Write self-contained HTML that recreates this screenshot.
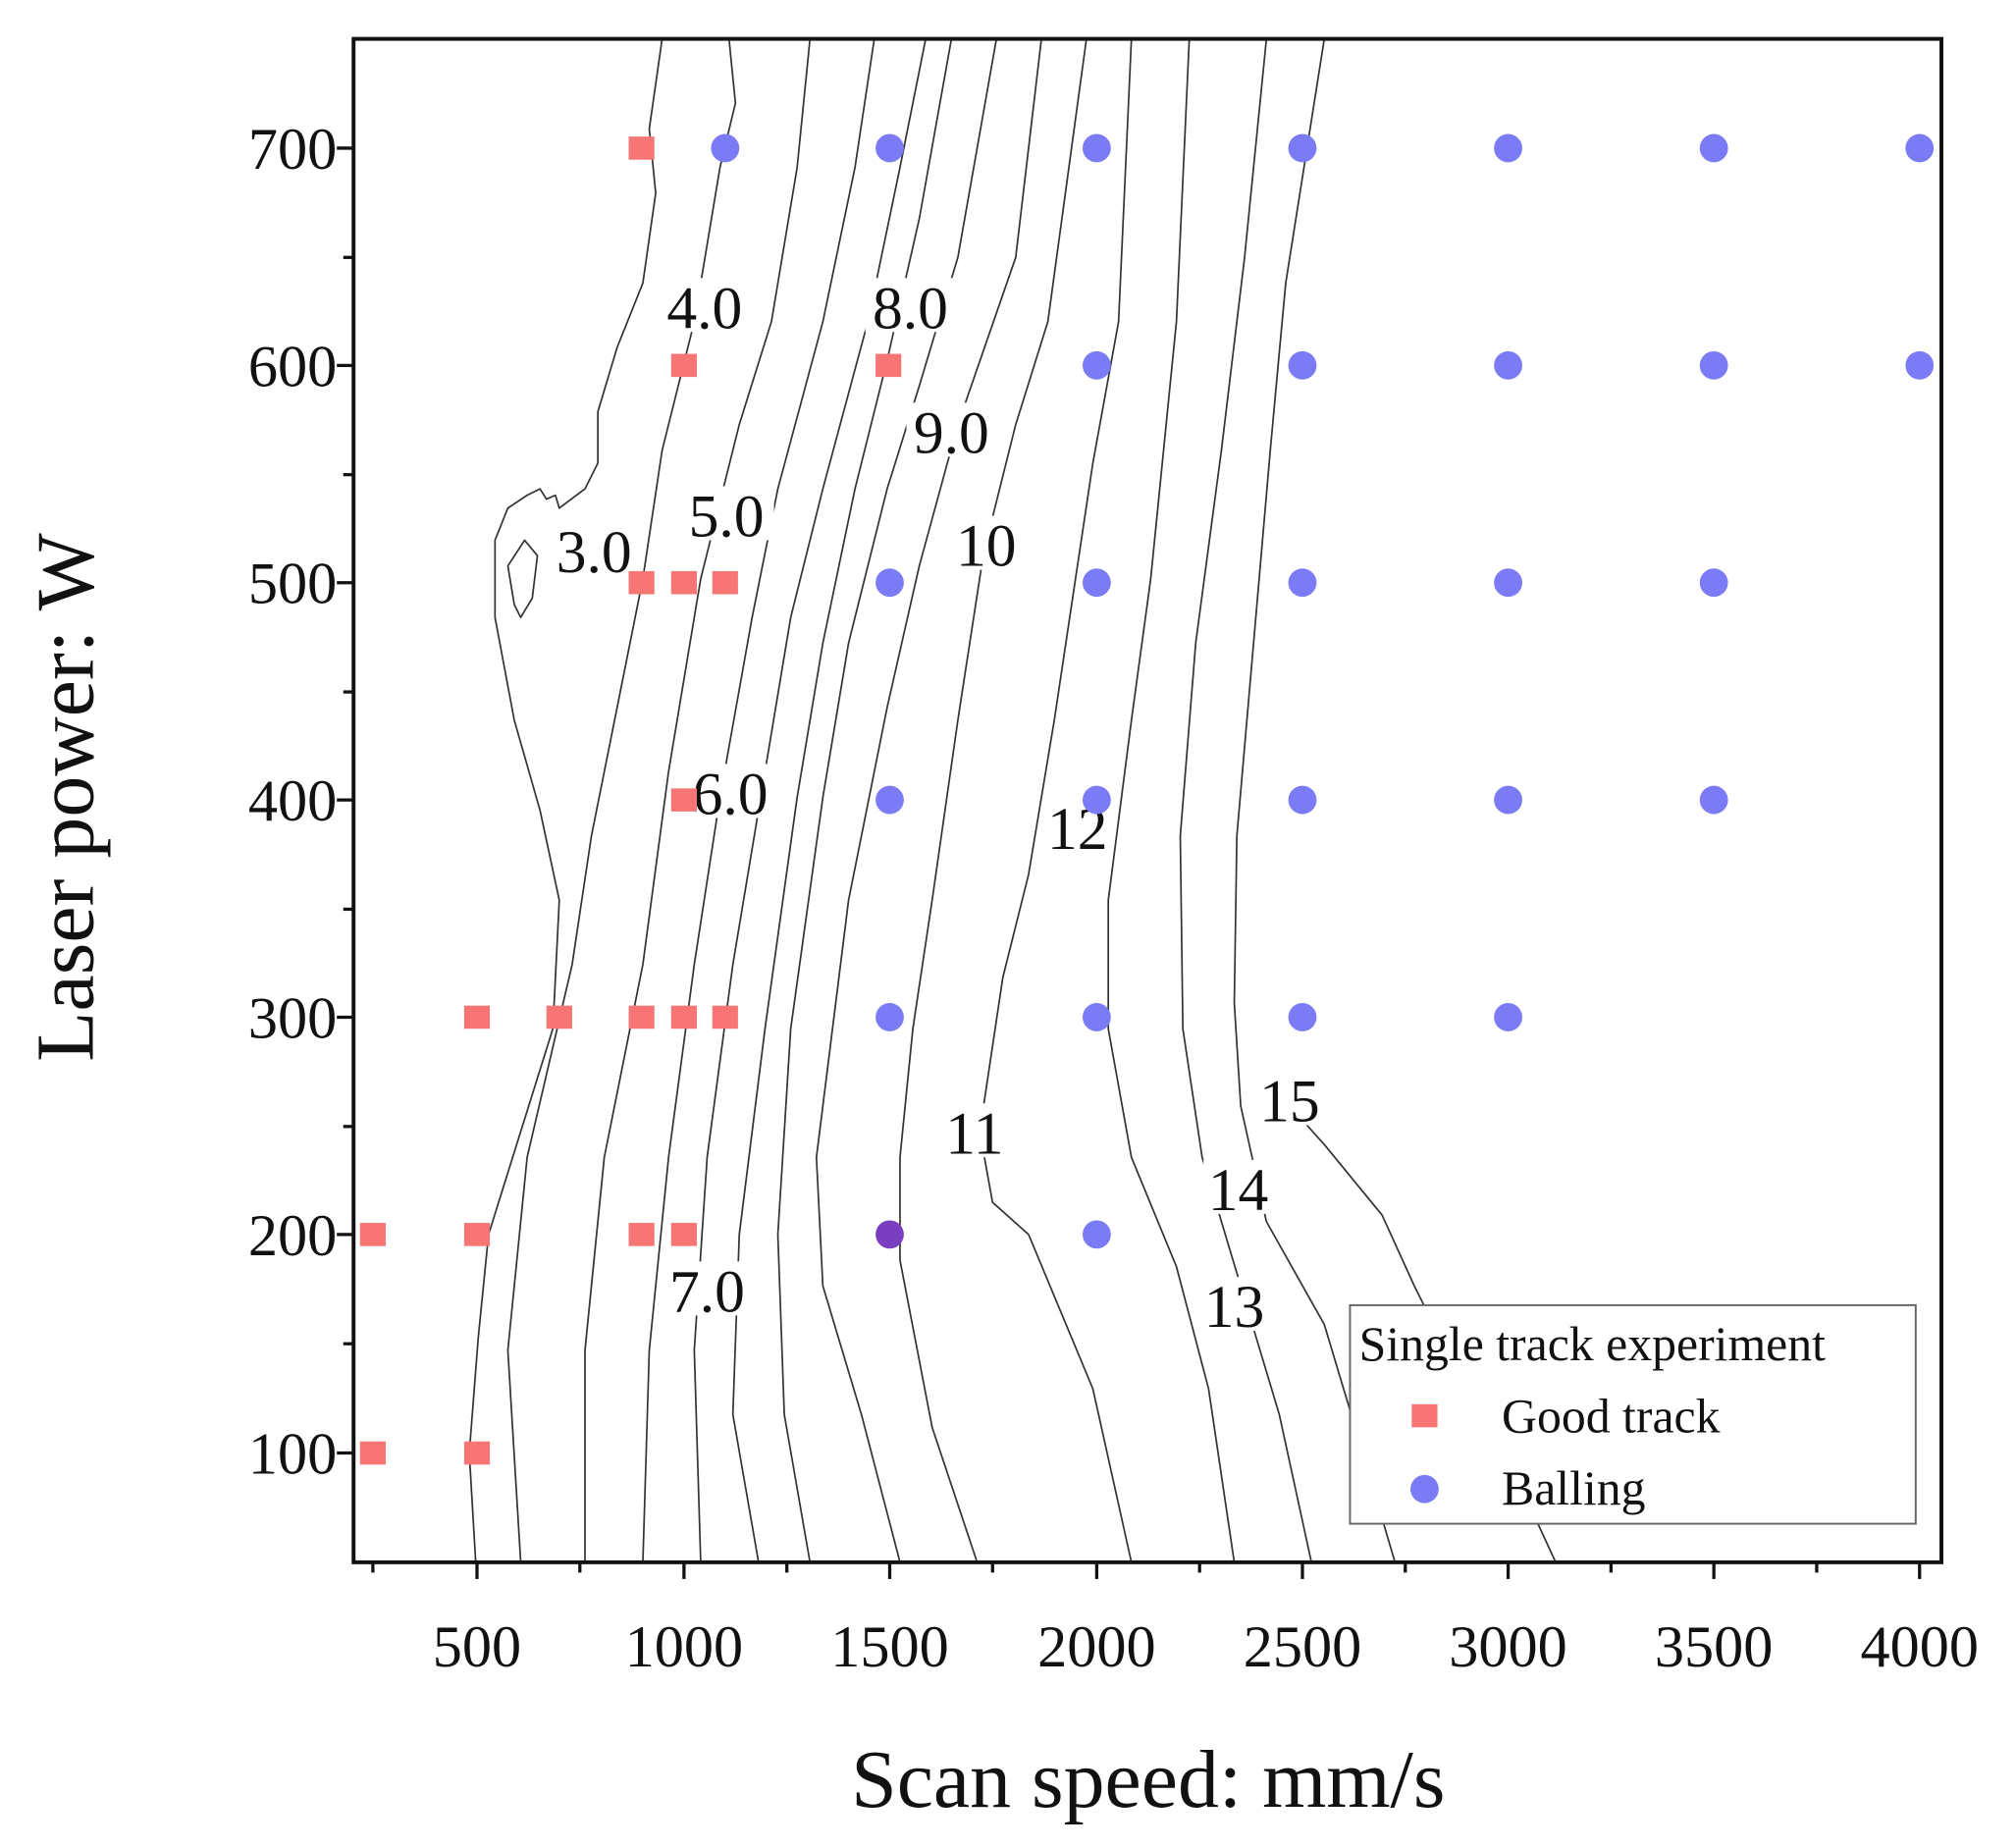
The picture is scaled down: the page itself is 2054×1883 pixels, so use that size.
<!DOCTYPE html>
<html><head><style>html,body{margin:0;padding:0;background:#fff}svg{display:block}</style></head><body>
<svg width="2054" height="1883" viewBox="0 0 1568 1437" xmlns="http://www.w3.org/2000/svg" font-family="Liberation Serif, serif">
<rect width="1568" height="1437" fill="#fff"/>
<g fill="none" stroke="#333" stroke-width="1.3" stroke-linejoin="round">
<path d="M370,1215 L365,1130 L372,1040 L380,960 L405,880 L430,800 L435,700 L420,630 L400,560 L385,480 L385,420 L395,395 L410,385 L420,380 L425,388 L432,385 L435,395 L455,380 L465,360 L465,320 L480,270 L500,220 L510,150 L505,100 L515,30"/>
<path d="M400,470 L395,440 L408,420 L418,432 L414,465 L405,480 Z"/>
<path d="M405,1215 L395,1050 L410,900 L445,750 L460,650 L480,550 L500,450 L515,350 L540,250 L560,130 L572,80 L567,30"/>
<path d="M455,1215 L455,1050 L470,900 L500,750 L520,600 L545,450 L575,330 L600,250 L620,130 L630,30"/>
<path d="M500,1215 L505,1050 L520,900 L540,750 L560,620 L585,480 L605,380 L640,250 L665,130 L680,30"/>
<path d="M545,1215 L540,1050 L550,900 L570,750 L595,600 L615,480 L640,380 L675,250 L700,130 L720,30"/>
<path d="M590,1215 L570,1100 L575,960 L595,800 L620,620 L640,500 L665,380 L690,280 L715,170 L740,30"/>
<path d="M630,1215 L610,1100 L605,960 L615,800 L640,620 L660,500 L690,380 L715,300 L745,200 L775,30"/>
<path d="M700,1215 L670,1100 L640,1000 L635,900 L660,700 L690,550 L715,440 L745,330 L790,200 L810,30"/>
<path d="M760,1215 L725,1110 L700,980 L700,900 L710,800 L725,700 L745,560 L765,430 L790,330 L815,250 L845,30"/>
<path d="M880,1215 L850,1080 L800,960 L772,935 L762,880 L780,760 L800,680 L820,560 L835,460 L850,360 L870,250 L880,30"/>
<path d="M960,1215 L940,1080 L915,985 L880,900 L862,800 L862,700 L880,560 L895,450 L905,350 L915,250 L925,30"/>
<path d="M1020,1215 L995,1100 L965,1000 L935,900 L920,800 L918,650 L930,500 L950,350 L968,200 L985,30"/>
<path d="M1085,1215 L1060,1130 L1030,1030 L985,950 L965,860 L960,780 L962,650 L975,500 L988,350 L1000,220 L1030,30"/>
<path d="M1210,1215 L1180,1150 L1130,1060 L1100,1000 L1075,945 L1030,890 L1012,870"/>
</g>
<g font-size="47" text-anchor="middle" fill="#111">
<g fill="#fff" stroke="none">
<rect x="513" y="216" width="72" height="42"/><rect x="673" y="216" width="72" height="42"/><rect x="705" y="313" width="72" height="42"/><rect x="530" y="378" width="72" height="42"/><rect x="426" y="406" width="72" height="42"/><rect x="740" y="401" width="54" height="42"/><rect x="533" y="594" width="72" height="42"/><rect x="811" y="621" width="54" height="42"/><rect x="731" y="858" width="54" height="42"/><rect x="976" y="833" width="54" height="42"/><rect x="936" y="902" width="54" height="42"/><rect x="514" y="981" width="72" height="42"/><rect x="933" y="993" width="54" height="42"/>
</g>
<text x="548" y="255">4.0</text><text x="708" y="255">8.0</text><text x="740" y="352">9.0</text><text x="565" y="417">5.0</text><text x="462" y="445">3.0</text><text x="767" y="440">10</text><text x="568" y="633">6.0</text><text x="838" y="660">12</text><text x="758" y="897">11</text><text x="1003" y="872">15</text><text x="963" y="941">14</text><text x="550" y="1020">7.0</text><text x="960" y="1032">13</text>
</g>
<g fill="#f87575">
<rect x="489" y="106" width="20" height="18"/><rect x="522" y="275" width="20" height="18"/><rect x="681" y="275" width="20" height="18"/>
<rect x="489" y="444" width="20" height="18"/><rect x="522" y="444" width="20" height="18"/><rect x="554" y="444" width="20" height="18"/>
<rect x="522" y="613" width="20" height="18"/>
<rect x="361" y="782" width="20" height="18"/><rect x="425" y="782" width="20" height="18"/><rect x="489" y="782" width="20" height="18"/><rect x="522" y="782" width="20" height="18"/><rect x="554" y="782" width="20" height="18"/>
<rect x="280" y="951" width="20" height="18"/><rect x="361" y="951" width="20" height="18"/><rect x="489" y="951" width="20" height="18"/><rect x="522" y="951" width="20" height="18"/>
<rect x="280" y="1121" width="20" height="18"/><rect x="361" y="1121" width="20" height="18"/>
</g>
<g fill="#7b7bf5">
<circle cx="564" cy="115" r="11"/><circle cx="692" cy="115" r="11"/><circle cx="853" cy="115" r="11"/><circle cx="1013" cy="115" r="11"/><circle cx="1173" cy="115" r="11"/><circle cx="1333" cy="115" r="11"/><circle cx="1493" cy="115" r="11"/>
<circle cx="853" cy="284" r="11"/><circle cx="1013" cy="284" r="11"/><circle cx="1173" cy="284" r="11"/><circle cx="1333" cy="284" r="11"/><circle cx="1493" cy="284" r="11"/>
<circle cx="692" cy="453" r="11"/><circle cx="853" cy="453" r="11"/><circle cx="1013" cy="453" r="11"/><circle cx="1173" cy="453" r="11"/><circle cx="1333" cy="453" r="11"/>
<circle cx="692" cy="622" r="11"/><circle cx="853" cy="622" r="11"/><circle cx="1013" cy="622" r="11"/><circle cx="1173" cy="622" r="11"/><circle cx="1333" cy="622" r="11"/>
<circle cx="692" cy="791" r="11"/><circle cx="853" cy="791" r="11"/><circle cx="1013" cy="791" r="11"/><circle cx="1173" cy="791" r="11"/>
<circle cx="853" cy="960" r="11"/>
<circle cx="692" cy="960" r="11" fill="#7a3fc0"/>
</g>
<rect x="1050" y="1015" width="440" height="170" fill="#fff" stroke="#666" stroke-width="1.5"/>
<g font-size="38" fill="#111">
<text x="1057" y="1058">Single track experiment</text>
<text x="1168" y="1114">Good track</text>
<text x="1168" y="1170">Balling</text>
</g>
<rect x="1098" y="1092" width="20" height="18" fill="#f87575"/>
<circle cx="1108" cy="1158" r="11" fill="#7b7bf5"/>
<rect x="275" y="30" width="1235" height="1185" fill="none" stroke="#111" stroke-width="3"/>
<g stroke="#111" stroke-width="2.5">
<line x1="275" y1="115" x2="262" y2="115"/><line x1="275" y1="284" x2="262" y2="284"/><line x1="275" y1="453" x2="262" y2="453"/><line x1="275" y1="622" x2="262" y2="622"/><line x1="275" y1="791" x2="262" y2="791"/><line x1="275" y1="960" x2="262" y2="960"/><line x1="275" y1="1130" x2="262" y2="1130"/>
<line x1="275" y1="200" x2="267" y2="200"/><line x1="275" y1="369" x2="267" y2="369"/><line x1="275" y1="538" x2="267" y2="538"/><line x1="275" y1="707" x2="267" y2="707"/><line x1="275" y1="876" x2="267" y2="876"/><line x1="275" y1="1045" x2="267" y2="1045"/>
<line x1="371" y1="1215" x2="371" y2="1228"/><line x1="532" y1="1215" x2="532" y2="1228"/><line x1="692" y1="1215" x2="692" y2="1228"/><line x1="853" y1="1215" x2="853" y2="1228"/><line x1="1013" y1="1215" x2="1013" y2="1228"/><line x1="1173" y1="1215" x2="1173" y2="1228"/><line x1="1333" y1="1215" x2="1333" y2="1228"/><line x1="1493" y1="1215" x2="1493" y2="1228"/>
<line x1="290" y1="1215" x2="290" y2="1223"/><line x1="451" y1="1215" x2="451" y2="1223"/><line x1="612" y1="1215" x2="612" y2="1223"/><line x1="772" y1="1215" x2="772" y2="1223"/><line x1="933" y1="1215" x2="933" y2="1223"/><line x1="1093" y1="1215" x2="1093" y2="1223"/><line x1="1253" y1="1215" x2="1253" y2="1223"/><line x1="1413" y1="1215" x2="1413" y2="1223"/>
</g>
<g font-size="46" fill="#111" text-anchor="end">
<text x="262" y="131">700</text><text x="262" y="300">600</text><text x="262" y="469">500</text><text x="262" y="638">400</text><text x="262" y="807">300</text><text x="262" y="976">200</text><text x="262" y="1146">100</text>
</g>
<g font-size="46" fill="#111" text-anchor="middle">
<text x="371" y="1296">500</text><text x="532" y="1296">1000</text><text x="692" y="1296">1500</text><text x="853" y="1296">2000</text><text x="1013" y="1296">2500</text><text x="1173" y="1296">3000</text><text x="1333" y="1296">3500</text><text x="1493" y="1296">4000</text>
</g>
<text x="893" y="1405" font-size="64" text-anchor="middle" fill="#111">Scan speed: mm/s</text>
<text transform="translate(72,620) rotate(-90)" font-size="64" text-anchor="middle" fill="#111">Laser power: W</text>
</svg>
</body></html>
